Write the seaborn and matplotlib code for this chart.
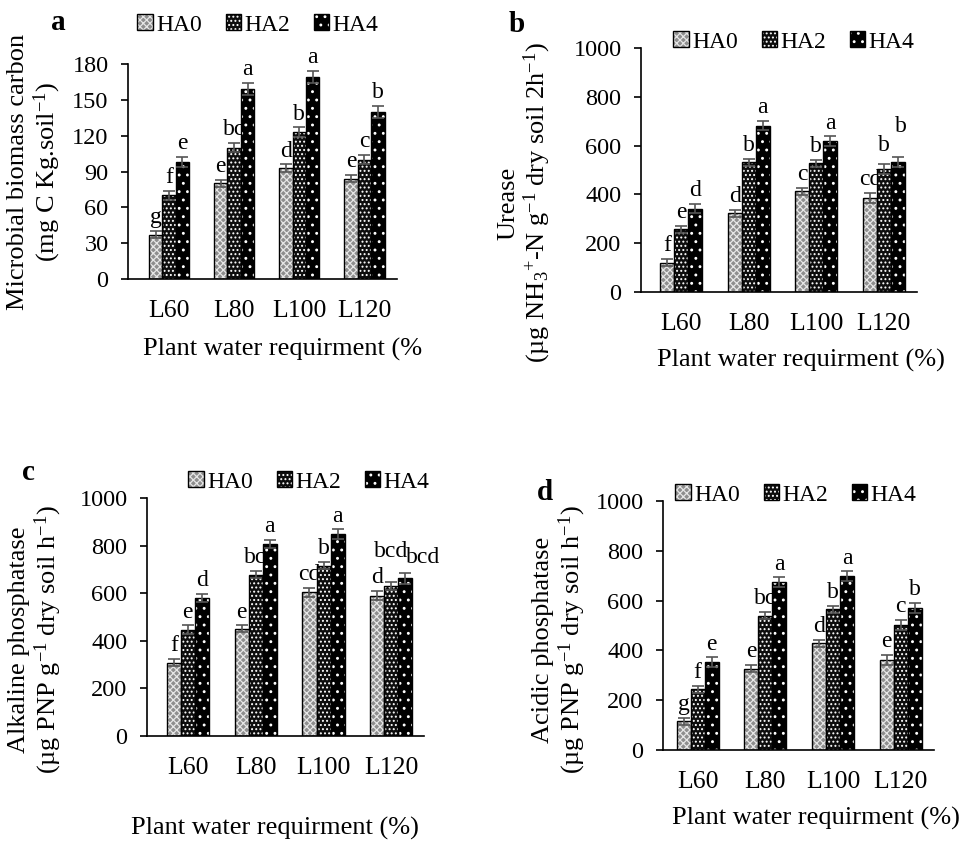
import numpy as np
import pandas as pd
import matplotlib
matplotlib.use("Agg")
import matplotlib.pyplot as plt
import seaborn as sns
from matplotlib.patches import Patch, Rectangle
from matplotlib.legend_handler import HandlerTuple

# ==========================
# Data
# ==========================

categories = ["L60", "L80", "L100", "L120"]
treatments = ["HA0", "HA2", "HA4"]

# a - microbial biomass carbon
mbc_ha0 = [37, 80, 93, 84]
mbc_ha2 = [70, 110, 123, 100]
mbc_ha4 = [98, 159, 169, 140]
mbc_err_ha0 = [3, 3, 3, 3]
mbc_err_ha2 = [4, 4, 4, 4]
mbc_err_ha4 = [4, 5, 5, 5]
mbc_letters_ha0 = ["g", "e", "d", "e"]
mbc_letters_ha2 = ["f", "bc", "b", "c"]
mbc_letters_ha4 = ["e", "a", "a", "b"]

# b - urease
ure_ha0 = [120, 322, 412, 385]
ure_ha2 = [257, 532, 527, 503]
ure_ha4 = [342, 682, 618, 533]
ure_err_ha0 = [15, 15, 15, 20]
ure_err_ha2 = [15, 15, 15, 20]
ure_err_ha4 = [20, 20, 20, 22]
ure_letters_ha0 = ["f", "d", "c", "cd"]
ure_letters_ha2 = ["e", "b", "b", "b"]
ure_letters_ha4 = ["d", "a", "a", "b"]

# c - alkaline phosphatase
alp_ha0 = [308, 450, 603, 590]
alp_ha2 = [447, 678, 715, 630]
alp_ha4 = [580, 807, 848, 662]
alp_err_ha0 = [15, 15, 18, 20]
alp_err_ha2 = [18, 15, 15, 18]
alp_err_ha4 = [18, 18, 20, 22]
alp_letters_ha0 = ["f", "e", "cd", "d"]
alp_letters_ha2 = ["e", "bc", "b", "bcd"]
alp_letters_ha4 = ["d", "a", "a", "bcd"]

# d - acidic phosphatase
acp_ha0 = [115, 327, 428, 363]
acp_ha2 = [243, 540, 565, 502]
acp_ha4 = [352, 673, 697, 570]
acp_err_ha0 = [15, 15, 15, 20]
acp_err_ha2 = [15, 15, 15, 20]
acp_err_ha4 = [20, 20, 20, 20]
acp_letters_ha0 = ["g", "e", "d", "e"]
acp_letters_ha2 = ["f", "bc", "b", "c"]
acp_letters_ha4 = ["e", "a", "a", "b"]

# ==========================
# Style
# ==========================

sns.set_style("white")
plt.rcParams["font.family"] = ["Liberation Serif", "DejaVu Serif"]
plt.rcParams["mathtext.fontset"] = "custom"
plt.rcParams["mathtext.rm"] = "Liberation Serif"
plt.rcParams["mathtext.it"] = "Liberation Serif:italic"
plt.rcParams["hatch.linewidth"] = 0.9
for key in ["text.color", "axes.labelcolor", "xtick.color", "ytick.color"]:
    plt.rcParams[key] = "black"

FS = 17          # letters, legend
FS_LABEL = 19    # axis titles
FS_YTICK = 17.5
FS_XTICK = 18.5

# facecolor, hatch colour, hatch pattern
bar_styles = {
    "HA0": ("#8e8e8e", "#e6e6e6", "xxxxx"),
    "HA2": ("#0d0d0d", "#ffffff", "...."),
    "HA4": ("#000000", "#ffffff", ".."),
}


def make_df(ha0, ha2, ha4):
    rows = []
    for t, vals in zip(treatments, [ha0, ha2, ha4]):
        for c, v in zip(categories, vals):
            rows.append({"level": c, "treatment": t, "value": v})
    return pd.DataFrame(rows)


def draw_panel(ax, df, errs, letters, ymax, ystep, xlim, ylabel, xlabel,
               xlabel_pos, ylabel_pos, nudges=None):
    nudges = nudges or {}
    sns.barplot(
        data=df, x="level", y="value", hue="treatment",
        order=categories, hue_order=treatments,
        errorbar=None, width=0.62, legend=False, ax=ax,
    )
    for i, (t, cont, err, lab) in enumerate(zip(treatments, ax.containers, errs, letters)):
        fc, hc, hatch = bar_styles[t]
        for j, (bar, e, l) in enumerate(zip(cont.patches, err, lab)):
            bar.set_facecolor(fc)
            bar.set_edgecolor(hc)
            bar.set_hatch(hatch)
            bar.set_linewidth(0)
            bar.set_zorder(2)
            ax.add_patch(Rectangle(bar.get_xy(), bar.get_width(), bar.get_height(),
                                   fill=False, ec="black", lw=1.0, zorder=2.1))
            xc = bar.get_x() + bar.get_width() / 2
            top = bar.get_height()
            ax.errorbar(xc, top, yerr=e, color="#555555", capsize=4,
                        elinewidth=1.2, capthick=1.2, zorder=3)
            dx, dy = nudges.get((i, j), (0, 2))
            ax.annotate(l, (xc, top + e), xytext=(dx, dy), textcoords="offset points",
                        ha="center", va="bottom", fontsize=FS, zorder=1.5)

    ax.set_ylim(0, ymax)
    ax.set_yticks(np.arange(0, ymax + 1, ystep))
    ax.set_xlim(*xlim)
    sns.despine(ax=ax)
    for side in ["left", "bottom"]:
        ax.spines[side].set_linewidth(1.2)
        ax.spines[side].set_color("black")
    ax.tick_params(axis="y", direction="out", length=5, width=1.2, pad=9,
                   labelsize=FS_YTICK, left=True)
    ax.tick_params(axis="x", length=0, pad=15, labelsize=FS_XTICK)
    ax.set_ylabel(ylabel, fontsize=FS_LABEL, linespacing=1.1)
    ax.yaxis.set_label_coords(*ylabel_pos)
    ax.yaxis.label.set_va("center")
    ax.set_xlabel(xlabel, fontsize=FS_LABEL)
    ax.xaxis.set_label_coords(*xlabel_pos)
    ax.xaxis.label.set_va("center")


def add_legend(ax, fig, pos):
    handles = []
    for t in treatments:
        fc, hc, hatch = bar_styles[t]
        handles.append((Patch(facecolor=fc, edgecolor=hc, hatch=hatch, lw=0),
                        Patch(fill=False, edgecolor="black", lw=1.0)))
    ax.legend(handles, treatments, loc="center", bbox_to_anchor=pos,
              bbox_transform=fig.transFigure, ncol=3, frameon=False,
              fontsize=FS, handlelength=0.65, handleheight=0.65,
              handletextpad=0.15, columnspacing=1.0,
              handler_map={tuple: HandlerTuple(ndivide=1)})


# ==========================
# Figure
# ==========================

W, H = 965, 841
fig = plt.figure(figsize=(W / 100, H / 100), dpi=100)


def rect(l, r, t, b):
    return [l / W, 1 - b / H, (r - l) / W, (b - t) / H]


ax_a = fig.add_axes(rect(128, 397, 64, 279))
ax_b = fig.add_axes(rect(641, 917, 48, 292))
ax_c = fig.add_axes(rect(147, 424, 498, 736))
ax_d = fig.add_axes(rect(663, 934, 501, 750))

xlabel_full = "Plant water requirment (%)"

draw_panel(
    ax_a, make_df(mbc_ha0, mbc_ha2, mbc_ha4),
    [mbc_err_ha0, mbc_err_ha2, mbc_err_ha4],
    [mbc_letters_ha0, mbc_letters_ha2, mbc_letters_ha4],
    180, 30, (-0.63, 3.5),
    "Microbial biomass carbon\n(mg C Kg.soil$^{-1}$)",
    "Plant water requirment (%", (0.576, -0.33), (-0.345, 0.5),
)
draw_panel(
    ax_b, make_df(ure_ha0, ure_ha2, ure_ha4),
    [ure_err_ha0, ure_err_ha2, ure_err_ha4],
    [ure_letters_ha0, ure_letters_ha2, ure_letters_ha4],
    1000, 200, (-0.59, 3.49),
    "Urease\n(µg NH$_3$$^{+}$-N g$^{-1}$ dry soil 2h$^{-1}$)",
    xlabel_full, (0.58, -0.279), (-0.42, 0.365),
    nudges={(2, 3): (2, 14), (1, 3): (0, 6)},
)
draw_panel(
    ax_c, make_df(alp_ha0, alp_ha2, alp_ha4),
    [alp_err_ha0, alp_err_ha2, alp_err_ha4],
    [alp_letters_ha0, alp_letters_ha2, alp_letters_ha4],
    1000, 200, (-0.6, 3.48),
    "Alkaline phosphatase\n(µg PNP g$^{\u2212\\mathit{1}}$ dry soil h$^{\u22121}$)",
    xlabel_full, (0.462, -0.387), (-0.40, 0.403),
    nudges={(1, 3): (0, 14), (2, 3): (13, 4)},
)
draw_panel(
    ax_d, make_df(acp_ha0, acp_ha2, acp_ha4),
    [acp_err_ha0, acp_err_ha2, acp_err_ha4],
    [acp_letters_ha0, acp_letters_ha2, acp_letters_ha4],
    1000, 200, (-0.51, 3.49),
    "Acidic phosphatase\n(µg PNP g$^{\u2212\\mathit{1}}$ dry soil h$^{\u22121}$)",
    xlabel_full, (0.565, -0.273), (-0.38, 0.442),
)

add_legend(ax_a, fig, (258 / W, 1 - 25 / H))
add_legend(ax_b, fig, (794 / W, 1 - 42 / H))
add_legend(ax_c, fig, (309 / W, 1 - 482 / H))
add_legend(ax_d, fig, (796 / W, 1 - 495 / H))

for letter, (px, py) in zip(["a", "b", "c", "d"],
                            [(58, 23), (517, 25), (28, 473), (545, 493)]):
    fig.text(px / W, 1 - py / H, letter, fontsize=21, fontweight="bold",
             ha="center", va="center")

fig.savefig("out.png", dpi=100)
